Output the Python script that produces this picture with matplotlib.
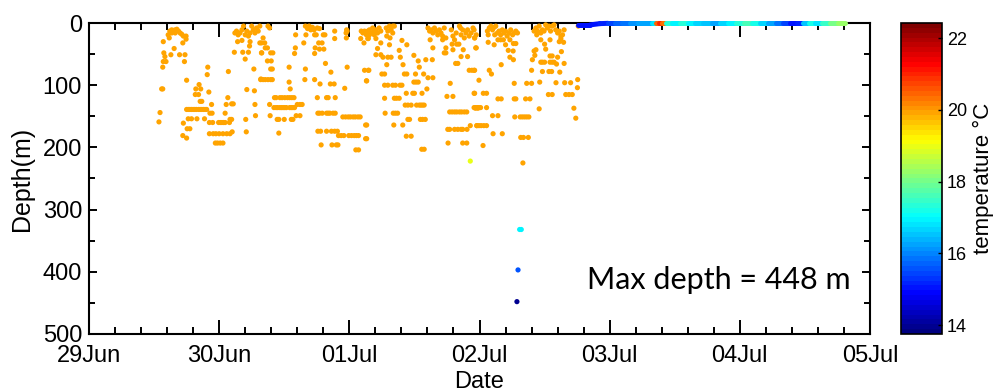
import numpy as np
import matplotlib.pyplot as plt
from matplotlib.collections import LineCollection
from matplotlib.colors import Normalize, LinearSegmentedColormap
from matplotlib.cm import ScalarMappable
from matplotlib.ticker import MultipleLocator

# x axis: hours since 29 Jun 00:00
day_labels = ["29Jun", "30Jun", "01Jul", "02Jul", "03Jul", "04Jul", "05Jul"]

# dive records (all around 20 degC -> orange)
dive_hour = [
    14.6, 14.9, 15.25, 15.6, 15.9, 16.2, 16.5, 16.8, 17.1, 17.4, 14.8, 15.25, 15.9, 17.9, 17.9,
    13.7, 15.7, 17.3, 13.8, 14.0, 15.1, 16.7, 17.7, 13.7, 14.2, 17.6, 13.6, 18.0, 21.9, 21.8,
    13.4, 13.6, 19.7, 20.6, 20.3, 22.1, 19.6, 20.2, 20.5, 20.8, 25.6, 25.7, 25.3, 26.3, 26.6, 13.1, 12.9,
    18.0, 18.3, 18.6, 18.9, 19.2, 19.5, 19.8, 20.2, 20.5, 20.8, 21.1, 21.4, 21.7,
    22.6, 22.3, 22.7, 18.3, 18.9, 19.9, 21.3, 25.1, 26.3, 26.0, 17.4,
    22.2, 22.8, 23.9, 24.2, 24.5, 24.8, 25.1, 25.9,
    18.1, 18.6,
    22.2, 22.9, 23.4, 24.0, 24.7, 25.4, 26.0,
    26.4, 17.3, 18.0, 23.3, 23.7, 24.2, 24.7,
    28.9, 29.0, 29.1, 30.5, 30.6, 30.7, 30.4, 31.7, 26.8, 28.35, 29.4, 29.6, 28.8, 31.85,
    26.9, 27.2, 27.5, 27.85, 28.2, 28.5, 28.8, 29.1, 29.4, 29.7, 30.0, 30.3, 30.6, 30.9, 31.2, 31.5,
    27.4, 28.2, 29.7, 31.5,
    32.1, 31.8, 32.4, 31.8, 32.5, 32.9, 33.5, 33.9, 32.9, 33.6, 33.5, 33.8, 33.0, 33.3,
    31.65, 32.1, 32.5, 33.0, 33.5, 33.8,
    36.9, 36.9, 37.1,
    34.2, 34.5, 35.2, 35.6, 36.1, 36.6, 37.0, 37.4, 37.8,
    33.3, 38.4, 38.9, 39.3, 33.4, 38.2, 38.9,
    34.1, 34.5, 34.8, 35.2, 35.5, 35.8, 36.1, 36.4, 37.0, 37.3, 37.6, 37.9,
    34.7, 35.0, 36.0, 37.3, 37.6, 35.0,
    38.1, 40.0, 41.6, 41.9, 43.2, 43.5, 39.9, 40.3, 40.6, 40.9, 41.2, 41.5, 42.1, 42.5,
    39.6, 42.35, 42.97, 38.05, 37.9, 41.7, 42.5, 43.3, 41.6, 45.3, 45.3, 43.6, 44.6, 39.9, 39.8,
    41.6, 42.6, 44.5, 45.2, 47.6, 47.15, 42.1, 43.8, 44.1, 45.4,
    42.2, 42.5, 43.0, 43.8, 44.1, 44.4, 45.0, 45.4,
    46.8, 47.3, 47.8, 48.2, 48.7, 49.1, 49.6, 50.0,
    42.2, 42.7, 43.8, 44.7, 45.3, 45.8,
    46.0, 46.5, 47.0, 47.9, 48.4, 48.9, 49.3, 49.7,
    42.8, 44.8, 45.6, 45.9, 49.2, 49.7, 51.0, 51.0, 50.8, 51.5, 51.15,
    47.5, 47.4, 47.45, 47.6, 50.2, 50.5, 50.8, 51.15, 51.5, 50.7, 50.1, 51.5,
    51.4, 51.7, 52.0, 52.3, 52.6, 52.9, 53.2, 53.5, 53.8, 51.7, 52.6, 54.8, 55.1, 55.4, 55.7, 56.0,
    56.3, 54.9, 55.5, 56.0,
    51.4, 52.9, 55.4, 53.8, 53.2, 52.9, 53.8, 54.2, 55.1, 55.7, 54.9, 57.2, 57.7, 58.6, 57.4, 57.9,
    51.6, 51.2, 54.0, 54.5, 58.15, 58.6, 59.9, 60.7, 60.9, 60.2, 61.7, 62.5, 63.4, 62.1, 63.3,
    59.9, 60.3, 60.7,
    54.5, 55.1, 56.0, 56.5, 57.35, 57.7,
    62.3, 58.5, 59.7, 60.0, 61.4,
    54.5, 56.3, 56.7, 57.2,
    58.3, 58.8, 59.4, 60.4, 60.9, 61.2, 61.5, 61.8,
    54.6, 56.1, 56.5, 56.9,
    58.8, 59.1, 61.1, 61.5, 62.0, 56.2, 57.85, 51.2, 58.5, 59.4, 61.35, 61.8, 51.2,
    62.5, 62.8, 63.1, 63.4, 63.7, 64.0, 64.3, 64.6, 64.9, 65.2, 65.5, 65.8, 62.9, 65.2, 66.8,
    67.1, 67.7, 67.4, 68.3, 68.6, 68.9, 69.2, 69.5, 69.8, 70.1, 70.45, 70.8, 71.1, 71.4, 68.5,
    63.4, 65.8, 66.95, 67.8, 67.1, 68.2, 65.8, 65.5, 68.6, 69.8, 69.0, 71.4, 67.6, 68.0, 70.1,
    70.6, 71.1, 66.6, 66.0, 67.1, 71.1, 71.25, 71.7,
    66.5, 66.95, 67.4, 67.8, 68.3, 68.7, 69.2, 69.65,
    66.15, 66.5, 67.4, 68.0, 68.6, 68.9, 69.7,
    70.3, 71.5, 66.2, 68.9, 69.65,
    73.45, 73.8, 74.1, 74.4, 74.7, 75.0, 74.8, 75.3, 75.6, 75.9, 76.2, 76.5, 76.8, 77.1, 77.45,
    77.75, 78.1, 78.4, 78.7, 79.0, 75.4, 75.9, 76.4, 77.6, 73.6,
    71.0, 71.1, 71.3, 73.6, 74.7, 76.8, 77.3, 78.25, 78.7, 77.6, 78.25, 78.2, 76.0,
    73.8, 74.2, 71.9, 71.0, 78.4, 71.0, 72.7, 73.3, 75.4, 76.0, 78.4, 78.7,
    71.0, 71.3, 71.6, 71.9, 72.2, 73.3,
    74.4, 75.4, 78.5,
    71.5, 71.9, 72.3, 72.8, 73.3,
    74.5, 76.2, 72.65,
    82.06, 82.4, 82.55, 82.7, 83.0, 83.3, 83.6, 83.9, 84.2, 84.5, 84.8, 85.1, 85.4, 85.75, 86.05,
    86.4, 86.7, 87.0, 87.3, 87.6,
    83.3, 85.0, 84.0, 86.7, 87.5, 87.0, 82.4, 84.2, 87.1, 82.06, 81.75, 82.2, 85.4, 86.4, 85.0,
    83.3, 83.6, 84.0, 85.0, 85.4, 85.75, 86.2, 87.6, 81.6, 83.6, 84.8, 85.3, 86.8,
    83.1, 86.1, 87.7, 88.8, 90.1, 80.7, 81.6, 80.5, 81.3, 84.7, 85.4, 87.9, 88.5, 89.1,
    83.0, 89.4, 89.75, 79.5, 79.9, 80.3, 80.7, 81.1, 79.6, 80.1, 81.0, 80.0, 90.2, 90.05,
]
dive_depth = [
    19, 13, 11, 12, 11, 10, 13, 16, 18, 21, 24, 16, 16, 21, 26,
    30, 41, 32, 48, 54, 51, 51, 51, 62, 62, 62, 71, 92, 71, 83,
    106, 106, 106, 106, 99, 111, 115, 115, 126, 126, 120, 78, 131, 130, 130, 144, 159,
    139, 139, 139, 139, 139, 139, 139, 139, 139, 139, 139, 139, 139,
    131, 145, 145, 154, 154, 154, 154, 145, 155, 155, 161,
    160, 160, 160, 160, 160, 160, 160, 160,
    170, 170,
    178, 178, 178, 178, 178, 178, 178,
    175, 181, 185, 193, 193, 193, 193,
    155, 175, 107, 109, 131, 149, 74, 90, 47, 47, 47, 37, 58, 48,
    16, 13, 19, 16, 11, 5, 19, 13, 21, 16, 5, 11, 16, 8, 13, 5,
    30, 28, 30, 32,
    24, 32, 32, 48, 40, 40, 48, 48, 61, 61, 74, 74, 5, 8,
    91, 91, 91, 91, 91, 91,
    71, 95, 106,
    120, 120, 120, 120, 120, 120, 120, 120, 120,
    131, 131, 131, 131, 149, 149, 149,
    136, 136, 136, 136, 136, 136, 136, 136, 136, 136, 136, 136,
    155, 155, 155, 155, 155, 177,
    19, 19, 19, 19, 19, 19, 5, 9, 5, 11, 7, 11, 8, 9,
    32, 32, 32, 40, 49, 40, 42, 42, 49, 13, 25, 65, 79, 74, 91,
    91, 98, 98, 98, 71, 105, 120, 120, 120, 120,
    145, 145, 145, 145, 145, 145, 145, 145,
    151, 151, 151, 151, 151, 151, 151, 151,
    174, 174, 174, 174, 174, 174,
    181, 181, 181, 181, 181, 181, 181, 181,
    196, 196, 196, 196, 204, 204, 164, 186, 76, 76, 93,
    11, 16, 24, 13, 13, 16, 13, 19, 21, 32, 25, 25,
    13, 11, 16, 8, 13, 11, 16, 8, 13, 19, 19, 8, 13, 5, 11, 5,
    5, 21, 24, 16,
    25, 25, 35, 32, 41, 51, 51, 55, 55, 55, 67, 44, 28, 35, 55, 67,
    76, 93, 82, 82, 82, 82, 52, 61, 71, 82, 82, 88, 88, 59, 59,
    95, 95, 95,
    100, 100, 100, 100, 100, 100,
    106, 113, 113, 113, 113,
    121, 121, 121, 121,
    132, 132, 132, 132, 132, 132, 132, 132,
    145, 145, 145, 145,
    155, 155, 155, 155, 155, 164, 164, 164, 182, 182, 203, 203, 186,
    8, 13, 11, 16, 8, 13, 19, 11, 16, 21, 8, 24, 27, 27, 11,
    21, 16, 27, 5, 19, 11, 24, 16, 11, 21, 16, 8, 24, 19, 8,
    40, 40, 34, 34, 43, 34, 48, 48, 54, 54, 43, 40, 65, 65, 76,
    76, 76, 97, 118, 118, 113, 137, 137,
    143, 143, 143, 143, 143, 143, 143, 143,
    171, 171, 171, 171, 171, 171, 171,
    165, 165, 193, 193, 193,
    13, 8, 5, 11, 7, 5, 19, 16, 13, 19, 11, 16, 13, 21, 16,
    11, 19, 16, 13, 16, 27, 27, 27, 27, 19,
    11, 24, 40, 31, 35, 35, 44, 33, 33, 55, 59, 45, 67,
    76, 82, 92, 76, 97, 113, 113, 113, 122, 122, 122, 122,
    136, 136, 136, 136, 136, 136,
    149, 149, 151,
    165, 165, 165, 165, 165,
    178, 178, 197,
    13, 8, 19, 13, 5, 16, 11, 13, 3, 8, 5, 13, 5, 3, 11,
    16, 13, 21, 19, 11,
    27, 27, 34, 30, 31, 25, 43, 42, 46, 45, 59, 52, 53, 55, 53,
    63, 63, 63, 63, 63, 63, 66, 65, 76, 78, 78, 78, 79,
    95, 96, 96, 96, 91, 97, 97, 122, 122, 115, 115, 115, 115, 115,
    138, 137, 153, 151, 151, 151, 151, 151, 184, 184, 184, 225, 5, 104,
]
dive_temp = 19.9

# the few colder / deeper records
deep_hour = [70.3, 79.4, 79.7, 79.1, 78.9]
deep_depth = [222, 332, 332, 397, 448]
deep_temp = [18.9, 17.0, 17.0, 15.6, 14.0]

# tag at the surface after 03 Jul
surf_hour = [90.2, 90.5, 92.4, 94.2, 95.7, 97.0, 98.3, 99.8, 101.2, 102.5, 103.8, 104.6, 105.1,
             105.7, 106.4, 107.5, 109.0, 110.5, 111.7, 113.2, 114.9, 116.4, 117.8, 119.3, 120.8,
             122.3, 123.7, 125.2, 126.7, 128.0, 129.3, 130.6, 131.7, 132.8, 133.9, 135.2, 136.6,
             138.1, 139.4]
surf_depth = [3, 3, 3, 1, 0.5, 0.5, 0.5, 0.5, 0.5, 0.5, 0.5, 0.5, 0.5,
              0.5, 0.5, 0.5, 0.5, 0.5, 0.5, 0.5, 0.5, 0.5, 0.5, 0.5, 0.5,
              0.5, 0.5, 0.5, 0.5, 0.5, 0.5, 0.5, 0.5, 0.5, 0.5, 0.5, 0.5,
              0.5, 0.5]
surf_temp = [15.1, 15.0, 15.0, 15.2, 15.5, 15.7, 15.9, 16.1, 16.3, 16.2, 16.8, 20.5, 21.0,
             20.3, 17.3, 17.0, 17.3, 17.0, 16.7, 16.5, 16.3, 16.6, 16.9, 17.3, 17.6,
             17.2, 16.6, 16.3, 15.9, 15.4, 15.0, 15.2, 16.5, 17.2, 16.8, 17.5, 18.0,
             18.3, 18.4]

max_depth = 448

plt.rcParams['font.family'] = ['Liberation Sans', 'DejaVu Sans']

# MATLAB style jet, 64 levels
jet_ml = LinearSegmentedColormap('jet_ml', {
    'red':   [(0, 0, 0), (0.375, 0, 0), (0.625, 1, 1), (0.875, 1, 1), (1, 0.5, 0.5)],
    'green': [(0, 0, 0), (0.125, 0, 0), (0.375, 1, 1), (0.625, 1, 1), (0.875, 0, 0), (1, 0, 0)],
    'blue':  [(0, 0.5, 0.5), (0.125, 1, 1), (0.375, 1, 1), (0.625, 0, 0), (1, 0, 0)],
}, N=64)
norm = Normalize(vmin=13.75, vmax=22.42)

fig = plt.figure(figsize=(10.02, 3.92), dpi=100)
ax = fig.add_axes([0.0888, 0.148, 0.7795, 0.7933])
cax = fig.add_axes([0.8992, 0.148, 0.0409, 0.7933])

ax.scatter(np.array(dive_hour) / 24, dive_depth, c=[dive_temp] * len(dive_hour),
           cmap=jet_ml, norm=norm, s=14, linewidths=0, clip_on=False, zorder=3)
ax.scatter(np.array(deep_hour) / 24, deep_depth, c=deep_temp,
           cmap=jet_ml, norm=norm, s=14, linewidths=0, clip_on=False, zorder=3)

pts = np.column_stack([np.array(surf_hour) / 24, surf_depth])
segs = np.stack([pts[:-1], pts[1:]], axis=1)
lc = LineCollection(segs, colors=jet_ml(norm(surf_temp[:-1])), linewidths=3.6,
                    capstyle='round', clip_on=False, zorder=4)
ax.add_collection(lc)

ax.set_xlim(0, 6)
ax.set_ylim(500, 0)
ax.set_xticks(range(len(day_labels)))
ax.set_xticklabels(day_labels)
ax.xaxis.set_minor_locator(MultipleLocator(0.2))
ax.set_yticks(range(0, 501, 100))
ax.yaxis.set_minor_locator(MultipleLocator(50))

for s in ax.spines.values():
    s.set_linewidth(1.5)
ax.tick_params(which='both', direction='in', top=True, right=True, width=1.4,
               labelsize=17)
ax.tick_params(axis='x', which='major', length=10, pad=8)
ax.tick_params(axis='x', which='minor', length=5)
ax.tick_params(axis='y', which='major', length=6, pad=5)
ax.tick_params(axis='y', which='minor', length=4)

ax.set_xlabel('Date', fontsize=17, labelpad=3)
ax.set_ylabel('Depth(m)', fontsize=18, labelpad=6)

ax.text(0.9757, 0.174, f'Max depth = {max_depth} m', transform=ax.transAxes,
        ha='right', va='center', fontsize=22, family='Lato')

cb = fig.colorbar(ScalarMappable(norm=norm, cmap=jet_ml), cax=cax, ticks=[14, 16, 18, 20, 22])
cb.outline.set_linewidth(1.2)
cax.tick_params(labelsize=13, direction='in', length=3, width=1)
cb.set_label('temperature °C', fontsize=16, labelpad=4)

fig.savefig('out.png', dpi=100)
